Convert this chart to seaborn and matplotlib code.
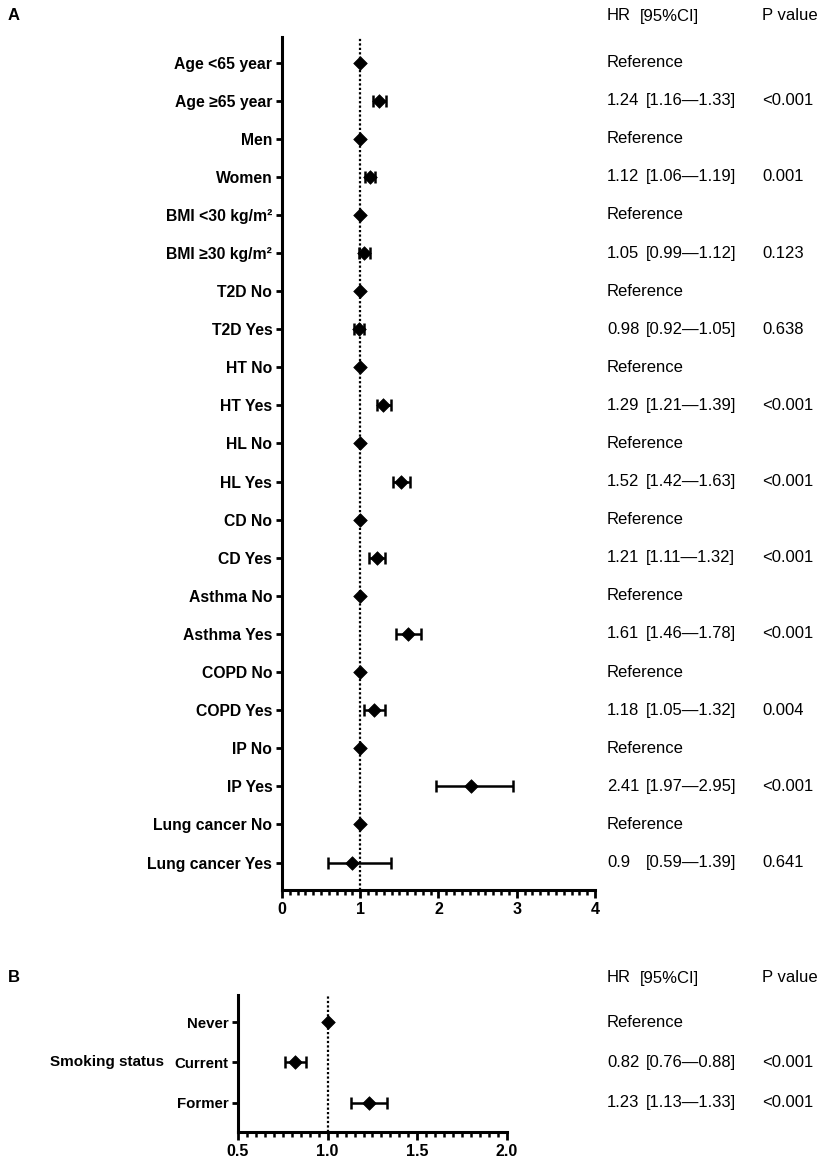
import numpy as np
import pandas as pd
import seaborn as sns
import matplotlib.pyplot as plt
from matplotlib import transforms
from matplotlib.ticker import MultipleLocator

# panel A data
labels_a = ['Age <65 year', 'Age \u226565 year', 'Men', 'Women',
            'BMI <30 kg/m\u00b2', 'BMI \u226530 kg/m\u00b2', 'T2D No', 'T2D Yes',
            'HT No', 'HT Yes', 'HL No', 'HL Yes', 'CD No', 'CD Yes',
            'Asthma No', 'Asthma Yes', 'COPD No', 'COPD Yes', 'IP No', 'IP Yes',
            'Lung cancer No', 'Lung cancer Yes']
hr_a = [1, 1.24, 1, 1.12, 1, 1.05, 1, 0.98, 1, 1.29, 1, 1.52, 1, 1.21,
        1, 1.61, 1, 1.18, 1, 2.41, 1, 0.90]
lo_a = [1, 1.16, 1, 1.06, 1, 0.99, 1, 0.92, 1, 1.21, 1, 1.42, 1, 1.11,
        1, 1.46, 1, 1.05, 1, 1.97, 1, 0.59]
hi_a = [1, 1.33, 1, 1.19, 1, 1.12, 1, 1.05, 1, 1.39, 1, 1.63, 1, 1.32,
        1, 1.78, 1, 1.32, 1, 2.95, 1, 1.39]
hr_txt_a = ['', '1.24', '', '1.12', '', '1.05', '', '0.98', '', '1.29', '', '1.52',
            '', '1.21', '', '1.61', '', '1.18', '', '2.41', '', '0.9']
ci_txt_a = ['', '[1.16\u20141.33]', '', '[1.06\u20141.19]', '', '[0.99\u20141.12]',
            '', '[0.92\u20141.05]', '', '[1.21\u20141.39]', '', '[1.42\u20141.63]',
            '', '[1.11\u20141.32]', '', '[1.46\u20141.78]', '', '[1.05\u20141.32]',
            '', '[1.97\u20142.95]', '', '[0.59\u20141.39]']
p_txt_a = ['', '<0.001', '', '0.001', '', '0.123', '', '0.638', '', '<0.001', '',
           '<0.001', '', '<0.001', '', '<0.001', '', '0.004', '', '<0.001', '', '0.641']

# panel B data
labels_b = ['Never', 'Current', 'Former']
hr_b = [1, 0.82, 1.23]
lo_b = [1, 0.76, 1.13]
hi_b = [1, 0.88, 1.33]
hr_txt_b = ['', '0.82', '1.23']
ci_txt_b = ['', '[0.76\u20140.88]', '[1.13\u20141.33]']
p_txt_b = ['', '<0.001', '<0.001']

sns.set_style('ticks')
plt.rcParams['font.family'] = ['Liberation Sans', 'DejaVu Sans']
plt.rcParams.update({'text.color': 'black', 'axes.edgecolor': 'black',
                     'xtick.color': 'black', 'ytick.color': 'black',
                     'axes.labelcolor': 'black'})

W, H = 829, 1157
fig = plt.figure(figsize=(W / 100, H / 100), dpi=100)
TXT = 12


def forest(ax, labels, hr, lo, hi, hr_txt, ci_txt, p_txt, lab_size):
    df = pd.DataFrame({'label': labels, 'hr': hr, 'lo': lo, 'hi': hi})
    df['row'] = np.arange(len(df))
    ax.axvline(1, color='black', ls=(0, (1.0, 1.0)), lw=1.6, zorder=1)
    ref = df['lo'] == df['hi']
    d = df[~ref]
    ax.errorbar(d['hr'], d['row'], xerr=[d['hr'] - d['lo'], d['hi'] - d['hr']],
                fmt='none', ecolor='black', elinewidth=1.8, capsize=4.5, capthick=1.8,
                zorder=2)
    sns.scatterplot(data=df, x='hr', y='row', marker='D', s=48, color='black',
                    edgecolor='black', linewidth=0.5, ax=ax, zorder=3, legend=False)
    n = len(df)
    ax.set_ylim(n - 1 + 0.72, -0.67)
    ax.set_yticks(df['row'])
    ax.set_yticklabels(df['label'], fontweight='bold', fontsize=lab_size)
    ax.set_xlabel('')
    ax.set_ylabel('')
    for s in ['top', 'right']:
        ax.spines[s].set_visible(False)
    for s in ['left', 'bottom']:
        ax.spines[s].set_linewidth(2.2)
    ax.tick_params(axis='y', length=4, width=2, pad=3)
    ax.tick_params(axis='x', which='major', length=6, width=2, pad=2.5, labelsize=11.5)
    ax.tick_params(axis='x', which='minor', length=3.5, width=1.8)
    tr = transforms.blended_transform_factory(fig.transFigure, ax.transData)
    for i in range(n):
        if hr_txt[i] == '':
            ax.text(607 / W, i, 'Reference', transform=tr, va='center', fontsize=TXT)
        else:
            ax.text(607 / W, i, hr_txt[i], transform=tr, va='center', fontsize=TXT)
            ax.text(646 / W, i, ci_txt[i], transform=tr, va='center', fontsize=TXT)
            ax.text(762 / W, i, p_txt[i], transform=tr, va='center', fontsize=TXT)


ax_a = fig.add_axes([282 / W, 1 - 890 / H, (595 - 282) / W, (890 - 37) / H])
forest(ax_a, labels_a, hr_a, lo_a, hi_a, hr_txt_a, ci_txt_a, p_txt_a, 11.3)
ax_a.set_xlim(0, 4)
ax_a.xaxis.set_major_locator(MultipleLocator(1))
ax_a.xaxis.set_minor_locator(MultipleLocator(0.1))
for t in ax_a.get_xticklabels():
    t.set_fontweight('bold')

ax_b = fig.add_axes([238 / W, 1 - 1132 / H, (507 - 238) / W, (1132 - 995) / H])
forest(ax_b, labels_b, hr_b, lo_b, hi_b, hr_txt_b, ci_txt_b, p_txt_b, 10.8)
ax_b.set_xlim(0.5, 2.0)
ax_b.xaxis.set_major_locator(MultipleLocator(0.5))
ax_b.xaxis.set_minor_locator(MultipleLocator(0.05))
ax_b.xaxis.set_major_formatter(plt.FormatStrFormatter('%.1f'))
for t in ax_b.get_xticklabels():
    t.set_fontweight('bold')
ax_b.text(164 / W, 1, 'Smoking status', transform=transforms.blended_transform_factory(
    fig.transFigure, ax_b.transData), ha='right', va='center', fontweight='bold',
    fontsize=11)

# headers and panel letters
for ytop, letter in [(16, 'A'), (978, 'B')]:
    fig.text(8 / W, 1 - ytop / H, letter, fontweight='bold', fontsize=12, va='center')
    fig.text(607 / W, 1 - ytop / H, 'HR', fontsize=TXT, va='center')
    fig.text(640 / W, 1 - ytop / H, '[95%CI]', fontsize=TXT, va='center')
    fig.text(762 / W, 1 - ytop / H, 'P value', fontsize=TXT, va='center')

fig.savefig('out.png', dpi=100)
